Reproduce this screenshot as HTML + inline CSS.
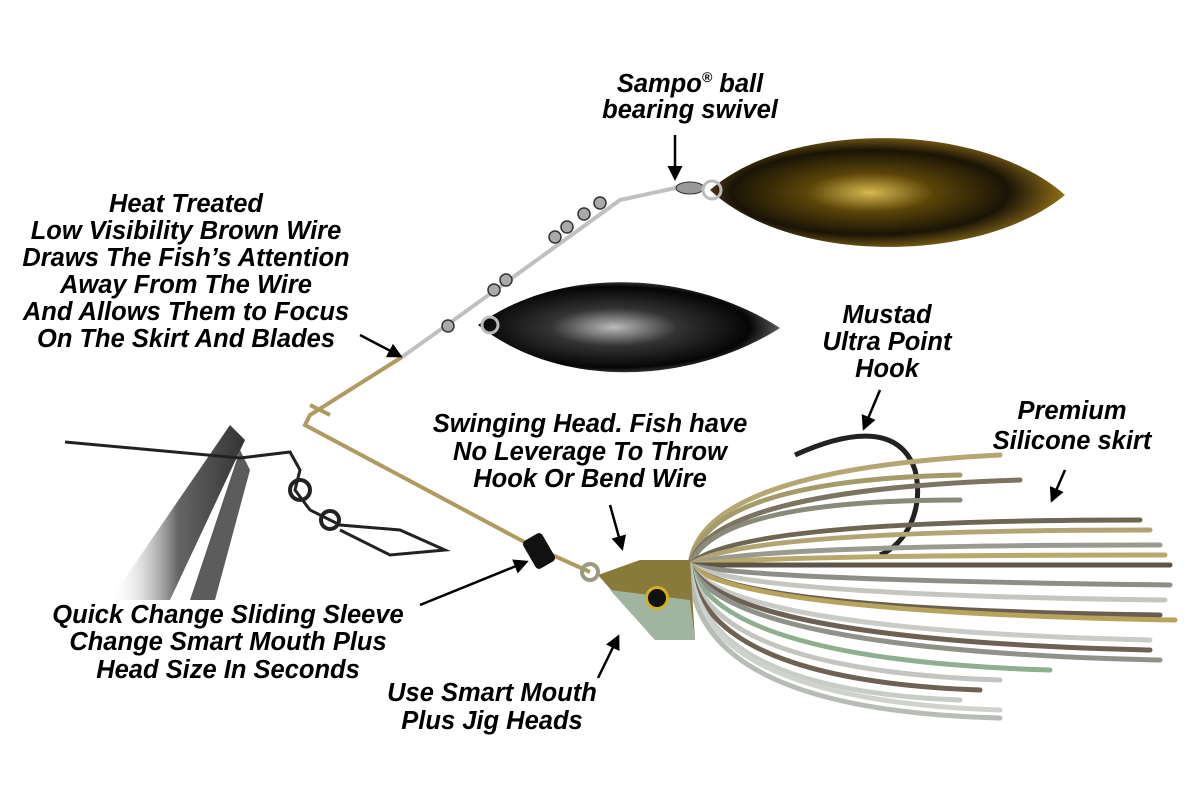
<!DOCTYPE html>
<html><head><meta charset="utf-8"><style>
html,body{margin:0;padding:0;background:#fff;width:1200px;height:807px;overflow:hidden}
svg{position:absolute;left:0;top:0}
text{font-family:"Liberation Sans",sans-serif;font-weight:bold;font-style:italic;font-size:25.5px;fill:#000;text-anchor:middle}
</style></head><body>
<svg width="1200" height="807" viewBox="0 0 1200 807">
<defs>
<radialGradient id="gold" cx="0.45" cy="0.5" r="0.6"><stop offset="0" stop-color="#d8b850"/><stop offset="0.3" stop-color="#5a4408"/><stop offset="0.65" stop-color="#1a1406"/><stop offset="0.9" stop-color="#8a6a18"/><stop offset="1" stop-color="#e0c050"/></radialGradient>
<radialGradient id="dark" cx="0.45" cy="0.5" r="0.6"><stop offset="0" stop-color="#bbb"/><stop offset="0.35" stop-color="#333"/><stop offset="0.75" stop-color="#050505"/><stop offset="1" stop-color="#888"/></radialGradient>
<linearGradient id="pl" x1="0" y1="0" x2="1" y2="0"><stop offset="0" stop-color="#fff" stop-opacity="0"/><stop offset="0.5" stop-color="#666"/><stop offset="1" stop-color="#333"/></linearGradient>
<marker id="ah" viewBox="0 0 10 10" refX="8" refY="5" markerWidth="6" markerHeight="6" orient="auto"><path d="M0,0 L10,5 L0,10 z" fill="#000"/></marker>
</defs>
<path d="M110,600 L230,425 L245,440 L170,600 Z" fill="url(#pl)"/>
<path d="M190,600 L240,450 L250,470 L215,600 Z" fill="#333" opacity="0.8"/>
<path d="M65,442 L240,458 L290,452 L300,470 L295,490 L310,510 L340,525 L400,530 L445,550 L390,555 L340,530" fill="none" stroke="#222" stroke-width="3"/>
<circle cx="300" cy="490" r="10" fill="none" stroke="#222" stroke-width="4"/>
<circle cx="330" cy="520" r="9" fill="none" stroke="#222" stroke-width="4"/>
<path d="M402,357 L310,415 L305,425 L530,545 L590,572" fill="none" stroke="#b09a60" stroke-width="4"/>
<path d="M310,405 L330,415" stroke="#b09a60" stroke-width="4"/>
<path d="M402,357 L440,330 L620,200 L680,187" fill="none" stroke="#c0c0c0" stroke-width="4"/>
<g fill="#aaa" stroke="#333" stroke-width="1.5">
<circle cx="448" cy="326" r="6"/><circle cx="494" cy="290" r="6"/><circle cx="506" cy="280" r="6"/><circle cx="555" cy="237" r="6"/><circle cx="567" cy="227" r="6"/><circle cx="584" cy="214" r="6"/><circle cx="600" cy="203" r="6"/></g>
<ellipse cx="690" cy="188" rx="14" ry="6" fill="#999" stroke="#333"/>
<path d="M710,190 C790,120 980,120 1065,195 C980,265 790,265 710,190 Z" fill="url(#gold)"/>
<circle cx="712" cy="190" r="9" fill="none" stroke="#bbb" stroke-width="3"/>
<path d="M478,325 C560,265 690,270 780,328 C690,385 560,390 478,325 Z" fill="url(#dark)"/>
<circle cx="490" cy="325" r="8" fill="none" stroke="#bbb" stroke-width="3"/>
<rect x="528" y="535" width="22" height="32" rx="4" fill="#111" transform="rotate(-30 539 551)"/>
<path d="M795,455 C850,430 900,425 915,470 C925,510 905,545 880,555" fill="none" stroke="#222" stroke-width="5"/>
<g fill="none" stroke-width="5" stroke-linecap="round">
<path d="M690,565 Q700,470 1000,455" stroke="#b6a772"/>
<path d="M690,565 Q705,480 960,475" stroke="#a49a6a"/>
<path d="M690,565 Q710,490 1020,480" stroke="#7a7460"/>
<path d="M690,565 Q715,500 960,500" stroke="#8a8a7a"/>
<path d="M690,565 Q730,520 1140,520" stroke="#6e6552"/>
<path d="M690,565 Q735,530 1150,530" stroke="#b3a573"/>
<path d="M690,565 Q740,545 1160,545" stroke="#9a9a90"/>
<path d="M690,565 Q745,555 1165,555" stroke="#b9a86a"/>
<path d="M690,565 Q750,565 1170,565" stroke="#5e5648"/>
<path d="M690,565 Q750,580 1170,585" stroke="#8d8f87"/>
<path d="M690,565 Q745,595 1165,600" stroke="#c4c6c0"/>
<path d="M690,565 Q740,610 1160,615" stroke="#6a5e50"/>
<path d="M690,565 Q740,612 1175,620" stroke="#b8a35c"/>
<path d="M690,565 Q730,630 1150,640" stroke="#c8cbc6"/>
<path d="M690,565 Q730,640 1150,650" stroke="#6d6154"/>
<path d="M690,565 Q725,650 1160,660" stroke="#8e9288"/>
<path d="M690,565 Q720,660 1050,670" stroke="#8fb090"/>
<path d="M690,565 Q710,670 1000,680" stroke="#c3c6c0"/>
<path d="M690,565 Q705,680 980,690" stroke="#6e6254"/>
<path d="M690,565 Q700,690 960,700" stroke="#c8ccc6"/>
<path d="M690,565 Q695,700 1000,710" stroke="#d0d3cd"/>
<path d="M690,565 Q690,710 1000,718" stroke="#b8bcb6"/>
</g>
<path d="M598,575 L640,560 L690,560 L695,640 L655,640 Z" fill="#8a7a3a"/>
<path d="M610,590 L655,640 L695,640 L690,600 Z" fill="#9fb5a0"/>
<circle cx="657" cy="598" r="12" fill="#d4b020"/><circle cx="657" cy="598" r="9" fill="#111"/>
<circle cx="590" cy="572" r="8" fill="none" stroke="#9a9a80" stroke-width="4"/>
<g stroke="#000" stroke-width="2.5" marker-end="url(#ah)">
<line x1="675" y1="135" x2="675" y2="178"/>
<line x1="360" y1="335" x2="400" y2="356"/>
<line x1="880" y1="390" x2="864" y2="428"/>
<line x1="1065" y1="470" x2="1052" y2="500"/>
<line x1="610" y1="505" x2="622" y2="548"/>
<line x1="420" y1="605" x2="526" y2="562"/>
<line x1="598" y1="678" x2="618" y2="637"/>
</g>
<text x="690" y="92">Sampo<tspan font-size="14" dy="-10">®</tspan><tspan dy="10"> ball</tspan></text>
<text x="690" y="118">bearing swivel</text>
<text x="186" y="212">Heat Treated</text>
<text x="186" y="239">Low Visibility Brown Wire</text>
<text x="186" y="266">Draws The Fish’s Attention</text>
<text x="186" y="293">Away From The Wire</text>
<text x="186" y="320">And Allows Them to Focus</text>
<text x="186" y="347">On The Skirt And Blades</text>
<text x="887" y="323">Mustad</text>
<text x="887" y="350">Ultra Point</text>
<text x="887" y="377">Hook</text>
<text x="1072" y="419">Premium</text>
<text x="1072" y="449">Silicone skirt</text>
<text x="590" y="432">Swinging Head. Fish have</text>
<text x="590" y="460">No Leverage To Throw</text>
<text x="590" y="487">Hook Or Bend Wire</text>
<text x="228" y="623">Quick Change Sliding Sleeve</text>
<text x="228" y="650">Change Smart Mouth Plus</text>
<text x="228" y="678">Head Size In Seconds</text>
<text x="492" y="701">Use Smart Mouth</text>
<text x="492" y="729">Plus Jig Heads</text>
</svg>
</body></html>
